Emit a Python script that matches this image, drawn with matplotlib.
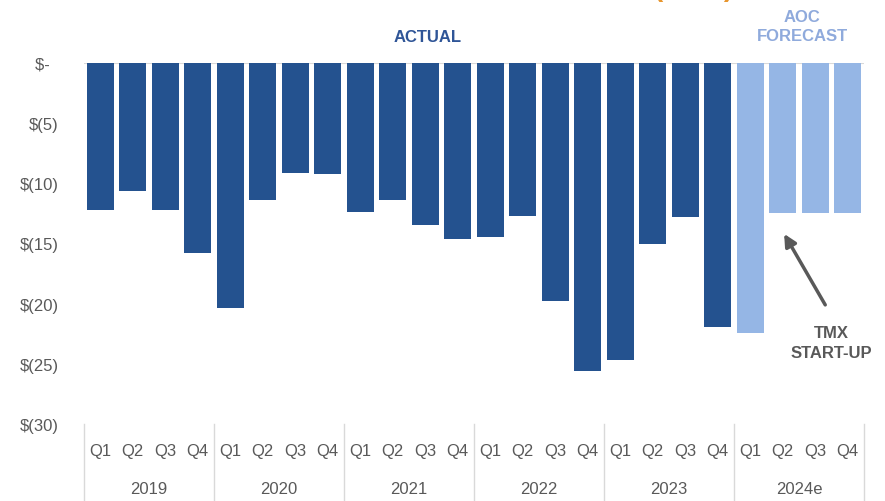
import matplotlib.pyplot as plt
import matplotlib.transforms as mtransforms

years = ["2019", "2020", "2021", "2022", "2023", "2024e"]
quarters = ["Q1", "Q2", "Q3", "Q4"]
actual = [-12.2, -10.6, -12.2, -15.8,
          -20.4, -11.4, -9.1, -9.2,
          -12.4, -11.4, -13.5, -14.6,
          -14.5, -12.7, -19.8, -25.6,
          -24.7, -15.0, -12.8, -21.9]
forecast = [-22.4, -12.5, -12.5, -12.5]
yticks = [0, -5, -10, -15, -20, -25, -30]

dark = "#24528F"
light = "#95B6E5"
grey = "#595959"

plt.rcParams['font.family'] = ['Liberation Sans', 'DejaVu Sans']

fig = plt.figure(figsize=(8.85, 5.02), dpi=100)
ax = fig.add_axes([84/885, 1-425/502, 780/885, 361/502])

xa = list(range(len(actual)))
xf = list(range(len(actual), len(actual) + len(forecast)))
ax.bar(xa, actual, width=0.83, color=dark)
ax.bar(xf, forecast, width=0.83, color=light)

n = len(actual) + len(forecast)
ax.set_xlim(-0.5, n - 0.5)
ax.set_ylim(-30, 0)
for s in ax.spines.values():
    s.set_visible(False)
ax.axhline(0, color="#D9D9D9", lw=1.5, zorder=0)

ax.set_yticks(yticks)
ax.set_yticklabels(["$-  " if v == 0 else "$(%d)" % -v for v in yticks],
                   color=grey, fontsize=12)
ax.tick_params(axis='y', length=0, pad=18)
ax.set_xticks([])

# multi-level category axis
tr = mtransforms.blended_transform_factory(ax.transData, fig.transFigure)
for i in range(n):
    ax.text(i, 1 - 452/502, quarters[i % 4], transform=tr, ha='center',
            va='center', color=grey, fontsize=12)
for j, yr in enumerate(years):
    ax.text(j*4 + 1.5, 1 - 490/502, yr, transform=tr, ha='center',
            va='center', color=grey, fontsize=12)
for j in range(len(years) + 1):
    ax.plot([j*4 - 0.5, j*4 - 0.5], [0, 1 - 425/502], transform=tr,
            color="#D9D9D9", lw=1, clip_on=False)

# headers
fig.text(428/885, 1 - 37/502, "ACTUAL", color="#2F5597", fontsize=12,
         fontweight='bold', ha='center', va='center')
fig.text(802/885, 1 - 27/502, "AOC\nFORECAST", color="#8FAADC", fontsize=12,
         fontweight='bold', ha='center', va='center', linespacing=1.3)
# title above the picture, only its lower edge shows
fig.text(694/885, 1 + 4.5/502, "(MM$)", color="#E8962E", fontsize=20,
         fontweight='bold', ha='center', va='baseline')

# annotation
ax.annotate("", xy=(21, -14.0), xytext=(22.35, -20.3),
            arrowprops=dict(arrowstyle="-|>", color=grey, lw=2.5,
                            mutation_scale=18))
ax.text(22.5, -23.2, "TMX\nSTART-UP", color=grey, fontsize=12,
        fontweight='bold', ha='center', va='center', linespacing=1.4)

fig.savefig("out.png", dpi=100)
